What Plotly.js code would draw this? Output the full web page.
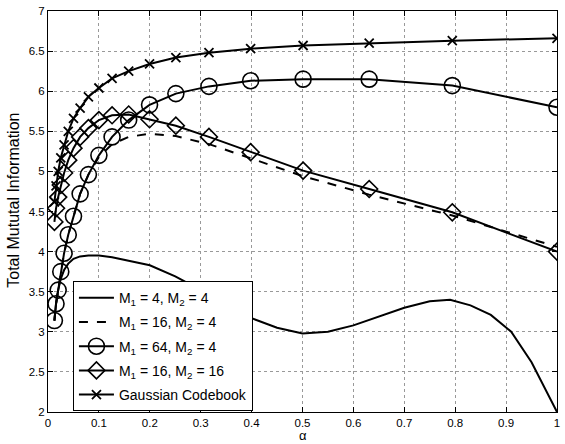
<!DOCTYPE html>
<html><head><meta charset="utf-8">
<script src="https://cdn.plot.ly/plotly-3.0.1.min.js"></script>
<style>html,body{margin:0;padding:0;background:#fff}#chart{width:565px;height:444px}</style>
</head><body><div id="chart"></div>
<script>
// alpha grid for marked series
const alpha = [0.0126,0.0158,0.02,0.0251,0.0316,0.0398,0.0501,0.0631,0.0794,0.1,0.1259,0.1585,0.1995,0.2512,0.3162,0.3981,0.5012,0.631,0.7943,1.0];
const m64_4  = [3.14,3.35,3.52,3.75,3.98,4.21,4.44,4.72,4.96,5.20,5.43,5.64,5.83,5.97,6.06,6.13,6.15,6.15,6.07,5.80];
const m16_16 = [4.37,4.54,4.68,4.83,4.98,5.14,5.29,5.43,5.54,5.64,5.70,5.71,5.65,5.57,5.43,5.24,5.01,4.78,4.49,4.00];
const gauss  = [4.62,4.82,5.00,5.17,5.33,5.50,5.66,5.79,5.93,6.04,6.16,6.25,6.34,6.42,6.48,6.53,6.57,6.60,6.63,6.66];
const m16_4  = [3.14,3.35,3.52,3.75,3.98,4.21,4.44,4.72,4.96,5.18,5.34,5.43,5.47,5.44,5.34,5.16,4.94,4.71,4.45,4.06];
// M1=4, M2=4 curve (no markers)
const alpha4 = [0.0126,0.0158,0.02,0.0251,0.0316,0.0398,0.0501,0.0631,0.0794,0.1,0.1259,0.1585,0.2,0.25,0.3162,0.35,0.4,0.45,0.5,0.55,0.6,0.65,0.7,0.75,0.79,0.83,0.87,0.91,0.95,1.0];
const m4_4   = [3.14,3.35,3.52,3.66,3.77,3.85,3.91,3.94,3.95,3.95,3.93,3.89,3.83,3.69,3.47,3.35,3.17,3.05,2.98,3.00,3.08,3.19,3.30,3.38,3.40,3.33,3.21,3.00,2.62,2.00];

const names = ["M<sub>1</sub> = 4, M<sub>2</sub> = 4","M<sub>1</sub> = 16, M<sub>2</sub> = 4","M<sub>1</sub> = 64, M<sub>2</sub> = 4","M<sub>1</sub> = 16, M<sub>2</sub> = 16","Gaussian Codebook"];
const xTicks = [0,0.1,0.2,0.3,0.4,0.5,0.6,0.7,0.8,0.9,1];
const xTickText = ["0","0.1","0.2","0.3","0.4","0.5","0.6","0.7","0.8","0.9","1"];
const yTicks = [2,2.5,3,3.5,4,4.5,5,5.5,6,6.5,7];
const yTickText = ["2","2.5","3","3.5","4","4.5","5","5.5","6","6.5","7"];
const yTitle = "Total Mututal Information";
const xTitle = "α";

const lw = 2;
const traces = [
  {x: alpha4, y: m4_4, name: names[0], mode:'lines', line:{color:'black', width:lw}, legendgroup:'a'},
  {x: alpha, y: m16_4, name: names[1], mode:'lines', line:{color:'black', width:lw, dash:'dash'}, legendgroup:'b'},
  {x: alpha, y: m64_4, name: names[2], mode:'lines+markers', line:{color:'black', width:lw},
   marker:{symbol:'circle-open', size:16, color:'black', line:{width:1.6, color:'black'}}, legendgroup:'c'},
  {x: alpha, y: m16_16, name: names[3], mode:'lines+markers', line:{color:'black', width:lw},
   marker:{symbol:'diamond-open', size:13, color:'black', line:{width:1.6, color:'black'}}, legendgroup:'d'},
  {x: alpha, y: gauss, name: names[4], mode:'lines+markers', line:{color:'black', width:lw},
   marker:{symbol:'x-thin-open', size:9, color:'black', line:{width:1.8, color:'black'}}, legendgroup:'e'}
];

const axisCommon = {
  showline:true, mirror:'ticks', linecolor:'black', linewidth:1,
  ticks:'inside', ticklen:5, tickcolor:'black',
  showgrid:true, gridcolor:'#999', griddash:'dot', gridwidth:1,
  zeroline:false, tickfont:{family:'Liberation Sans, Arial, sans-serif', size:11.5, color:'#000'}
};

const layout = {
  width:565, height:444,
  margin:{l:48, r:8, t:11, b:32},
  paper_bgcolor:'white', plot_bgcolor:'white',
  font:{family:'Liberation Sans, Arial, sans-serif', color:'#000'},
  showlegend:true,
  xaxis: Object.assign({}, axisCommon, {range:[0,1], tickvals:xTicks, ticktext:xTickText}),
  yaxis: Object.assign({}, axisCommon, {range:[2,7], tickvals:yTicks, ticktext:yTickText}),
  annotations:[
    {text:yTitle, xref:'paper', yref:'paper', x:-0.067, y:0.529, xanchor:'center', yanchor:'middle',
     textangle:-90, showarrow:false, font:{size:16, family:'Liberation Sans, Arial, sans-serif', color:'#000'}},
    {text:xTitle, xref:'paper', yref:'paper', x:0.5, y:-0.0574, xanchor:'center', yanchor:'middle',
     showarrow:false, borderpad:0, font:{size:13, family:'Liberation Sans, Arial, sans-serif', color:'#000'}}
  ],
  legend:{x:0.049, y:0.002, xanchor:'left', yanchor:'bottom', bgcolor:'white', bordercolor:'black', borderwidth:1,
     font:{size:14, family:'Liberation Sans, Arial, sans-serif'}, itemwidth:35, traceorder:'grouped', tracegroupgap:3}
};

Plotly.newPlot('chart', traces, layout, {staticPlot:true});
</script></body></html>
